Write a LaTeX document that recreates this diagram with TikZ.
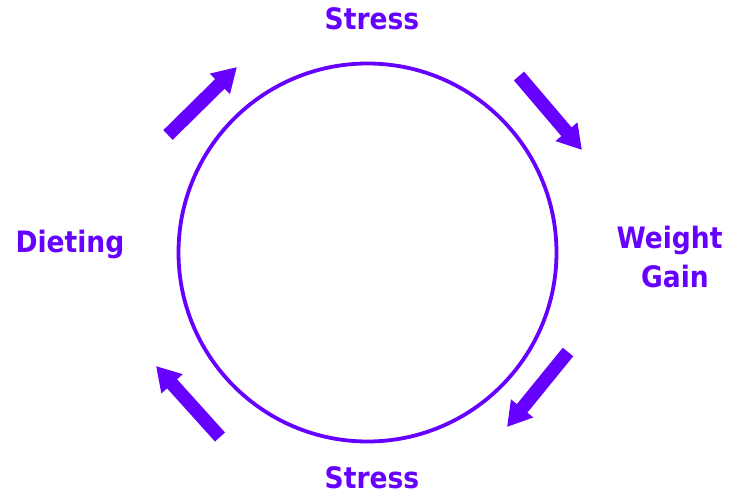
\documentclass[tikz,border=0pt]{standalone}
\usepackage{fontspec}
\setmainfont{DejaVu Sans Condensed}
\usetikzlibrary{arrows.meta}
\definecolor{vio}{RGB}{102,0,255}
\tikzset{
  lbl/.style={text=vio, font=\fontsize{29.5}{38}\selectfont\bfseries, inner sep=0pt, anchor=base},
  blockarrow/.style={draw=vio, line width=13.5pt, -{Triangle[length=24pt,width=27pt]}}
}
\begin{document}
\begin{tikzpicture}[x=1pt,y=-1pt]
\useasboundingbox (0,0) rectangle (729,495);
\draw[vio, line width=3.8pt] (367.5,252.5) circle[radius=189];
\node[lbl] (stop) at (372,29.5) {Stress};
\node[lbl] (sbot) at (372,488.5) {Stress};
\node[lbl] (diet) at (70,252.5) {Dieting};
\node[lbl] (wg1) at (669.5,248.5) {Weight};
\node[lbl] (wg2) at (675,287.5) {Gain};
\coordinate (a1t) at (168,135); \coordinate (a1h) at (237,67);
\coordinate (a2t) at (519,76);  \coordinate (a2h) at (582,150);
\coordinate (a3t) at (568,352); \coordinate (a3h) at (507,427);
\coordinate (a4t) at (220,437); \coordinate (a4h) at (156,366);
\draw[blockarrow] (a1t) -- (a1h);
\draw[blockarrow] (a2t) -- (a2h);
\draw[blockarrow] (a3t) -- (a3h);
\draw[blockarrow] (a4t) -- (a4h);
\end{tikzpicture}
\end{document}
